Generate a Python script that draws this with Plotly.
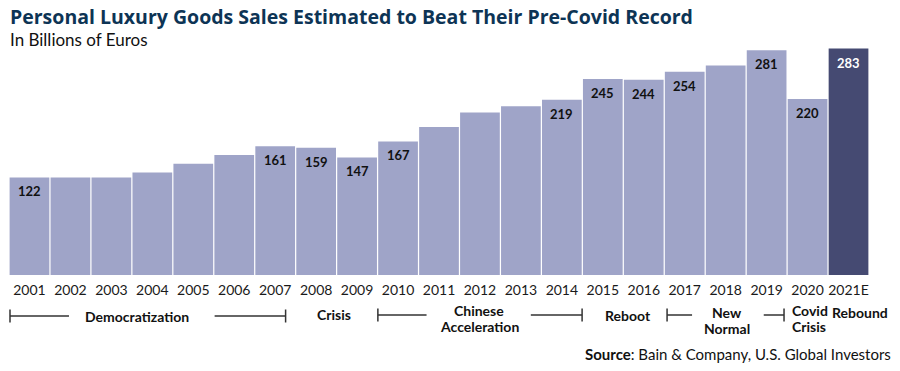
import plotly.graph_objects as go

# ---------------- data ----------------
years = ["2001", "2002", "2003", "2004", "2005", "2006", "2007", "2008", "2009", "2010",
         "2011", "2012", "2013", "2014", "2015", "2016", "2017", "2018", "2019", "2020", "2021E"]
sales = [122, 122, 122, 128, 139, 150, 161, 159, 147, 167,
         185, 203, 211, 219, 245, 244, 254, 262, 281, 220, 283]
labeled_years = ["2001", "2007", "2008", "2009", "2010", "2014", "2015", "2016",
                 "2017", "2019", "2020", "2021E"]
highlight_year = "2021E"
era_labels = ["Democratization", "Crisis", "Chinese<br>Acceleration", "Reboot",
              "New<br>Normal", "Covid<br>Crisis", "Rebound"]

title_text = "Personal Luxury Goods Sales Estimated to Beat Their Pre-Covid Record"
subtitle_text = "In Billions of Euros"
source_text = "<b>Source</b>: Bain & Company, U.S. Global Investors"

# ---------------- style ----------------
OFF = 8                      # default page body margin
W, H = 900 - 2 * OFF, 371 - 2 * OFF
PLOT_L, PLOT_R, PLOT_T, PLOT_B = 9, 869.3, 43, 275   # in screenshot pixels
ML = PLOT_L - OFF
MR = W - (PLOT_R - OFF)
MT = PLOT_T - OFF
MB = H - (PLOT_B - OFF)
PW = W - ML - MR
PH = H - MT - MB
LIGHT = "#9fa4c8"
DARK = "#454a72"
FONT = "Lato"
TXT = "#111111"


def px_x(px):
    return (px - PLOT_L) / PW


def px_y(py):
    return (PLOT_B - py) / PH


colors = [DARK if y == highlight_year else LIGHT for y in years]
idx = list(range(len(years)))

fig = go.Figure()
fig.add_trace(go.Bar(x=idx, y=sales, marker=dict(color=colors, line=dict(width=0)),
                     hovertext=years, hoverinfo="text+y"))

annotations = []
# value labels inside bars
for i, (y, v) in enumerate(zip(years, sales)):
    if y in labeled_years:
        annotations.append(dict(
            x=i, y=v, xref="x", yref="y", text=f"<b>{v}</b>", showarrow=False,
            yanchor="top", yshift=-4,
            font=dict(family=FONT, size=13, color="white" if y == highlight_year else TXT)))

# title / subtitle / source
annotations.append(dict(x=px_x(8), y=px_y(16.5), xref="paper", yref="paper", text=f"<b>{title_text}</b>",
                        showarrow=False, xanchor="left", yanchor="middle",
                        font=dict(family="Open Sans", size=19.5, color="#0d3455")))
annotations.append(dict(x=px_x(8), y=px_y(40), xref="paper", yref="paper", text=subtitle_text,
                        showarrow=False, xanchor="left", yanchor="middle",
                        font=dict(family=FONT, size=17, color=TXT)))
annotations.append(dict(x=px_x(893), y=px_y(354), xref="paper", yref="paper", text=source_text,
                        showarrow=False, xanchor="right", yanchor="middle",
                        font=dict(family=FONT, size=15, color=TXT)))

# era labels (positions in screenshot pixels: x, y of first line, anchor)
LINE_GAP = 16
era_pos = [(136.7, 316, "center"), (334.3, 314, "center"), (479.5, 310, "center"),
           (628, 315.7, "center"), (727.5, 312, "center"), (790, 310.5, "left"),
           (860, 312.3, "center")]
for lbl, (ex, ey, anc) in zip(era_labels, era_pos):
    for k, line in enumerate(lbl.split("<br>")):
        annotations.append(dict(x=px_x(ex), y=px_y(ey + k * LINE_GAP), xref="paper", yref="paper",
                                text=f"<b>{line}</b>", showarrow=False, xanchor=anc,
                                yanchor="middle", font=dict(family=FONT, size=14, color=TXT)))

# bracket lines
shapes = []
LC = "#333333"


def hline(x0, x1, yy):
    shapes.append(dict(type="line", xref="paper", yref="paper", x0=px_x(x0), x1=px_x(x1),
                       y0=px_y(yy), y1=px_y(yy), line=dict(color=LC, width=1.5)))


def vtick(xx, yy):
    shapes.append(dict(type="line", xref="paper", yref="paper", x0=px_x(xx), x1=px_x(xx),
                       y0=px_y(yy - 6.5), y1=px_y(yy + 6.5), line=dict(color=LC, width=1.5)))


# Democratization
hline(10, 69, 316); vtick(10, 316)
hline(214.7, 285.7, 316); vtick(285.7, 316)
# Chinese Acceleration
hline(378, 426.7, 315); vtick(378, 315)
hline(531, 582.3, 315); vtick(582.3, 315)
# New Normal
hline(667.3, 692.3, 315); vtick(667.3, 315)
hline(764, 784.3, 315); vtick(784.3, 315)

fig.update_layout(
    width=W, height=H,
    margin=dict(l=ML, r=MR, t=MT, b=MB, autoexpand=False),
    plot_bgcolor="white", paper_bgcolor="white",
    bargap=0.03,
    showlegend=False,
    xaxis=dict(tickmode="array", tickvals=idx, ticktext=years, range=[-0.5, len(years) - 0.5],
               showgrid=False, showline=False, zeroline=False,
               ticks="outside", ticklen=2, tickcolor="rgba(0,0,0,0)",
               tickfont=dict(family=FONT, size=14, color="#1a1a1a")),
    yaxis=dict(range=[0, 290], visible=False, showgrid=False, zeroline=False),
    annotations=annotations,
    shapes=shapes,
)

fig.write_html("out.html")
